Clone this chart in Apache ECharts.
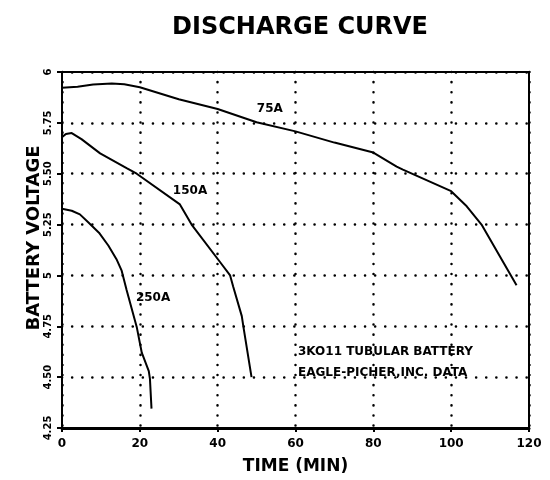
<!DOCTYPE html>
<html>
<head>
<meta charset="utf-8">
<script src="https://cdn.jsdelivr.net/npm/echarts@6/dist/echarts.min.js"></script>
<style>
* { margin: 0; padding: 0; }
body { background: #fff; }
#main { width: 550px; height: 480px; }
</style>
</head>
<body>
<div id="main"></div>
<script>
// values (time in min, voltage in V)
var curve75 = [[0, 5.923], [4, 5.928], [8, 5.938], [12.8, 5.944], [16, 5.940], [20, 5.925], [30, 5.866], [40, 5.818],
  [50, 5.753], [60, 5.708], [70, 5.653], [80, 5.604], [86, 5.535], [87.6, 5.52], [100, 5.414],
  [104, 5.34], [107.8, 5.25], [116.8, 4.952]];
var curve150 = [[0, 5.68], [1, 5.695], [2.5, 5.70], [5, 5.67], [9.8, 5.60], [16.6, 5.527], [19.2, 5.5], [30.3, 5.349],
  [33.3, 5.25], [40.6, 5.066], [43.2, 5.0], [44, 4.944], [46.2, 4.80], [46.6, 4.75], [48.7, 4.50]];
var curve250 = [[0, 5.328], [2.5, 5.318], [4.6, 5.30], [6.8, 5.26], [9.5, 5.21], [11.9, 5.147], [14, 5.08], [15.3, 5.025], [16.6, 4.928],
  [19.2, 4.747], [20.5, 4.62], [22.3, 4.53], [22.6, 4.491], [23.0, 4.345]];
var seriesNames = ['75A', '150A', '250A'];
var labelAt = [[53.4, 5.818], [32.9, 5.418], [23.4, 4.89]];
var yTicks = {'6': '6', '5.75': '5.75', '5.5': '5.50', '5.25': '5.25', '5': '5', '4.75': '4.75', '4.5': '4.50', '4.25': '4.25'};
var noteLines = ['3KO11 TUBULAR BATTERY', 'EAGLE-PICHER,INC. DATA'];

var font = 'DejaVu Sans';
var chart = echarts.init(document.getElementById('main'));

var dotted = { color: '#000', width: 2.5, type: [0.1, 10], cap: 'round' };

function makeSeries(data, i) {
  return {
    name: seriesNames[i],
    type: 'line',
    data: data,
    symbol: 'none',
    lineStyle: { color: '#000', width: 2 },
    markPoint: {
      symbol: 'rect',
      symbolSize: 0,
      silent: true,
      label: {
        show: true, formatter: seriesNames[i], color: '#000',
        fontFamily: font, fontWeight: 'bold', fontSize: 12
      },
      data: [{ coord: labelAt[i] }]
    }
  };
}

chart.setOption({
  animation: false,
  title: {
    text: 'DISCHARGE CURVE',
    left: 295, top: 11, textAlign: 'center',
    textStyle: { fontFamily: font, fontWeight: 'bold', fontSize: 24, color: '#000' }
  },
  grid: { left: 62, right: 21, top: 72, bottom: 47, show: true, borderColor: '#000', borderWidth: 2 },
  xAxis: {
    type: 'value', min: 0, max: 120, interval: 20,
    name: 'TIME (MIN)', nameLocation: 'middle', nameGap: 30,
    nameTextStyle: { fontFamily: font, fontSize: 17, color: '#000', fontWeight: 'bold' },
    axisLine: { lineStyle: { color: '#000', width: 3 } },
    axisTick: { show: true, length: 4, lineStyle: { color: '#000', width: 2 } },
    axisLabel: { fontFamily: font, fontWeight: 'bold', fontSize: 12, color: '#000', margin: 10 },
    splitLine: { show: true, lineStyle: dotted }
  },
  yAxis: {
    type: 'value', min: 4.25, max: 6, interval: 0.25,
    axisLine: { lineStyle: { color: '#000', width: 2 } },
    axisTick: { show: true, length: 5, lineStyle: { color: '#000', width: 2 } },
    axisLabel: {
      rotate: 90, fontFamily: font, fontWeight: 'bold', fontSize: 10, color: '#000', margin: 9,
      formatter: function (v) { return yTicks[String(v)] || ''; }
    },
    splitLine: { show: true, lineStyle: dotted }
  },
  series: [makeSeries(curve75, 0), makeSeries(curve150, 1), makeSeries(curve250, 2)],
  graphic: [{
    type: 'text', x: 34, y: 238, rotation: Math.PI / 2,
    style: {
      text: 'BATTERY VOLTAGE', fill: '#000', align: 'center', verticalAlign: 'middle',
      font: 'bold 18px "' + font + '"'
    }
  }, {
    type: 'text', left: 298, top: 341,
    style: {
      text: noteLines.join('\n'), fill: '#000', lineHeight: 21,
      font: 'bold 12px "' + font + '"'
    }
  }]
});
</script>
</body>
</html>
